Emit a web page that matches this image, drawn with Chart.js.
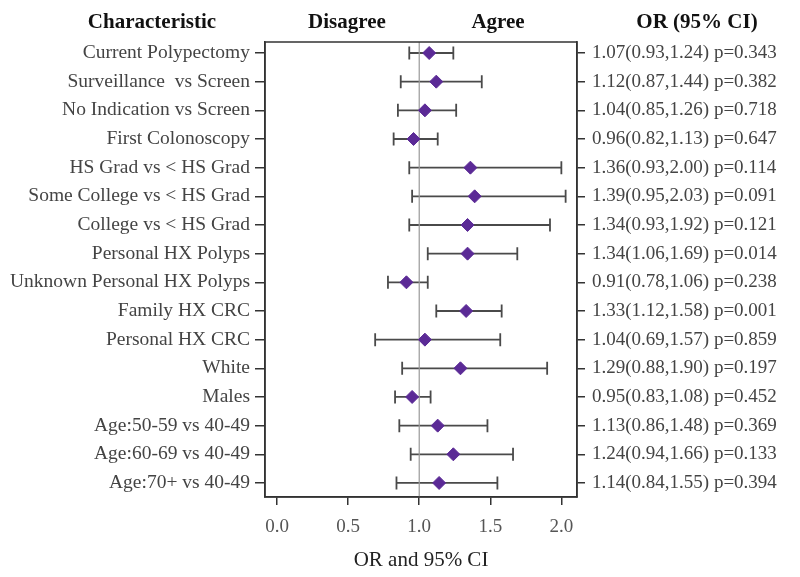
<!DOCTYPE html>
<html><head><meta charset="utf-8">
<script src="https://cdn.jsdelivr.net/npm/chart.js@4"></script>
<style>html,body{margin:0;padding:0;background:#fff}#wrap{width:800px;height:577px}</style>
</head><body><div id="wrap"><canvas id="c" width="800" height="577"></canvas></div>
<script>
const categories = ["Current Polypectomy","Surveillance  vs Screen","No Indication vs Screen","First Colonoscopy","HS Grad vs < HS Grad","Some College vs < HS Grad","College vs < HS Grad","Personal HX Polyps","Unknown Personal HX Polyps","Family HX CRC","Personal HX CRC","White","Males","Age:50-59 vs 40-49","Age:60-69 vs 40-49","Age:70+ vs 40-49"];
const oddsRatio = [1.07,1.12,1.04,0.96,1.36,1.39,1.34,1.34,0.91,1.33,1.04,1.29,0.95,1.13,1.24,1.14];
const lowerCI = [0.93,0.87,0.85,0.82,0.93,0.95,0.93,1.06,0.78,1.12,0.69,0.88,0.83,0.86,0.94,0.84];
const upperCI = [1.24,1.44,1.26,1.13,2.00,2.03,1.92,1.69,1.06,1.58,1.57,1.90,1.08,1.48,1.66,1.55];
const pValues = ["0.343","0.382","0.718","0.647","0.114","0.091","0.121","0.014","0.238","0.001","0.859","0.197","0.452","0.369","0.133","0.394"];
const xTicks = [0,0.5,1.0,1.5,2.0];

const rightLabels = oddsRatio.map((o,i)=>o.toFixed(2)+"("+lowerCI[i].toFixed(2)+","+upperCI[i].toFixed(2)+") p="+pValues[i]);
const serif = "'Liberation Serif','Times New Roman',serif";

const errorBars = {
  id:'errorBars',
  beforeDatasetsDraw(chart){
    const {ctx, scales:{x,y}} = chart;
    ctx.save();
    ctx.strokeStyle = '#4a4a4a';
    ctx.lineWidth = 1.8;
    categories.forEach((c,i)=>{
      const yp = y.getPixelForValue(i);
      const x1 = x.getPixelForValue(lowerCI[i]);
      const x2 = x.getPixelForValue(upperCI[i]);
      ctx.beginPath();
      ctx.moveTo(x1,yp); ctx.lineTo(x2,yp);
      ctx.moveTo(x1,yp-6.5); ctx.lineTo(x1,yp+6.5);
      ctx.moveTo(x2,yp-6.5); ctx.lineTo(x2,yp+6.5);
      ctx.stroke();
    });
    ctx.restore();
  }
};
const frame = {
  id:'frame',
  afterDraw(chart){
    const {ctx, chartArea:a} = chart;
    ctx.save();
    ctx.strokeStyle = '#333'; ctx.lineWidth = 1.5;
    ctx.strokeRect(a.left,a.top,a.right-a.left,a.bottom-a.top);
    ctx.fillStyle = '#111';
    ctx.font = "bold 21px "+serif;
    ctx.textAlign = 'center'; ctx.textBaseline = 'middle';
    ctx.fillText('Characteristic',152,23);
    ctx.fillText('Disagree',347,23);
    ctx.fillText('Agree',498,23);
    ctx.fillText('OR (95% CI)',697,23);
    ctx.restore();
  }
};

new Chart(document.getElementById('c'),{
  type:'scatter',
  data:{datasets:[
    {data:oddsRatio.map((o,i)=>({x:o,y:i})), pointStyle:'rectRot', pointRadius:6.5, pointHoverRadius:6.5,
     backgroundColor:'#5B2A96', borderColor:'#5B2A96', borderWidth:1, order:1},
    {type:'line', data:[{x:1,y:-0.384},{x:1,y:15.49}], borderColor:'#999', borderWidth:1.2, pointRadius:0, order:2}
  ]},
  options:{
    responsive:false, animation:false, events:[],
    layout:{padding:{top:42,bottom:0,left:0,right:0}},
    plugins:{legend:{display:false},tooltip:{enabled:false}},
    scales:{
      x:{type:'linear', min:-0.085, max:2.11,
         afterBuildTicks(s){ s.ticks = xTicks.map(v=>({value:v})); },
         afterFit(s){ s.height = 80; },
         border:{color:'#333',width:1.5},
         grid:{drawOnChartArea:false, drawTicks:true, tickLength:8, color:'#333', lineWidth:1.5},
         ticks:{color:'#555', font:{family:serif,size:19}, padding:11, callback:v=>v.toFixed(1)},
         title:{display:true,text:'OR and 95% CI',color:'#222',font:{family:serif,size:21},padding:{top:7}}},
      y:{type:'linear', reverse:true, min:-0.384, max:15.49, position:'left',
         afterBuildTicks(s){ s.ticks = categories.map((c,i)=>({value:i})); },
         afterFit(s){ s.width = 265; },
         border:{color:'#333',width:1.5},
         grid:{drawOnChartArea:false, drawTicks:true, tickLength:10, color:'#333', lineWidth:1.5},
         ticks:{color:'#444', font:{family:serif,size:19.5}, padding:5, autoSkip:false, callback:v=>categories[v]}},
      y2:{type:'linear', reverse:true, min:-0.384, max:15.49, position:'right',
         afterBuildTicks(s){ s.ticks = categories.map((c,i)=>({value:i})); },
         afterFit(s){ s.width = 223; },
         border:{color:'#333',width:1.5},
         grid:{drawOnChartArea:false, drawTicks:true, tickLength:8, color:'#333', lineWidth:1.5},
         ticks:{color:'#444', font:{family:serif,size:19}, padding:7, autoSkip:false, callback:v=>rightLabels[v]}}
    }
  },
  plugins:[errorBars, frame]
});
</script></body></html>
